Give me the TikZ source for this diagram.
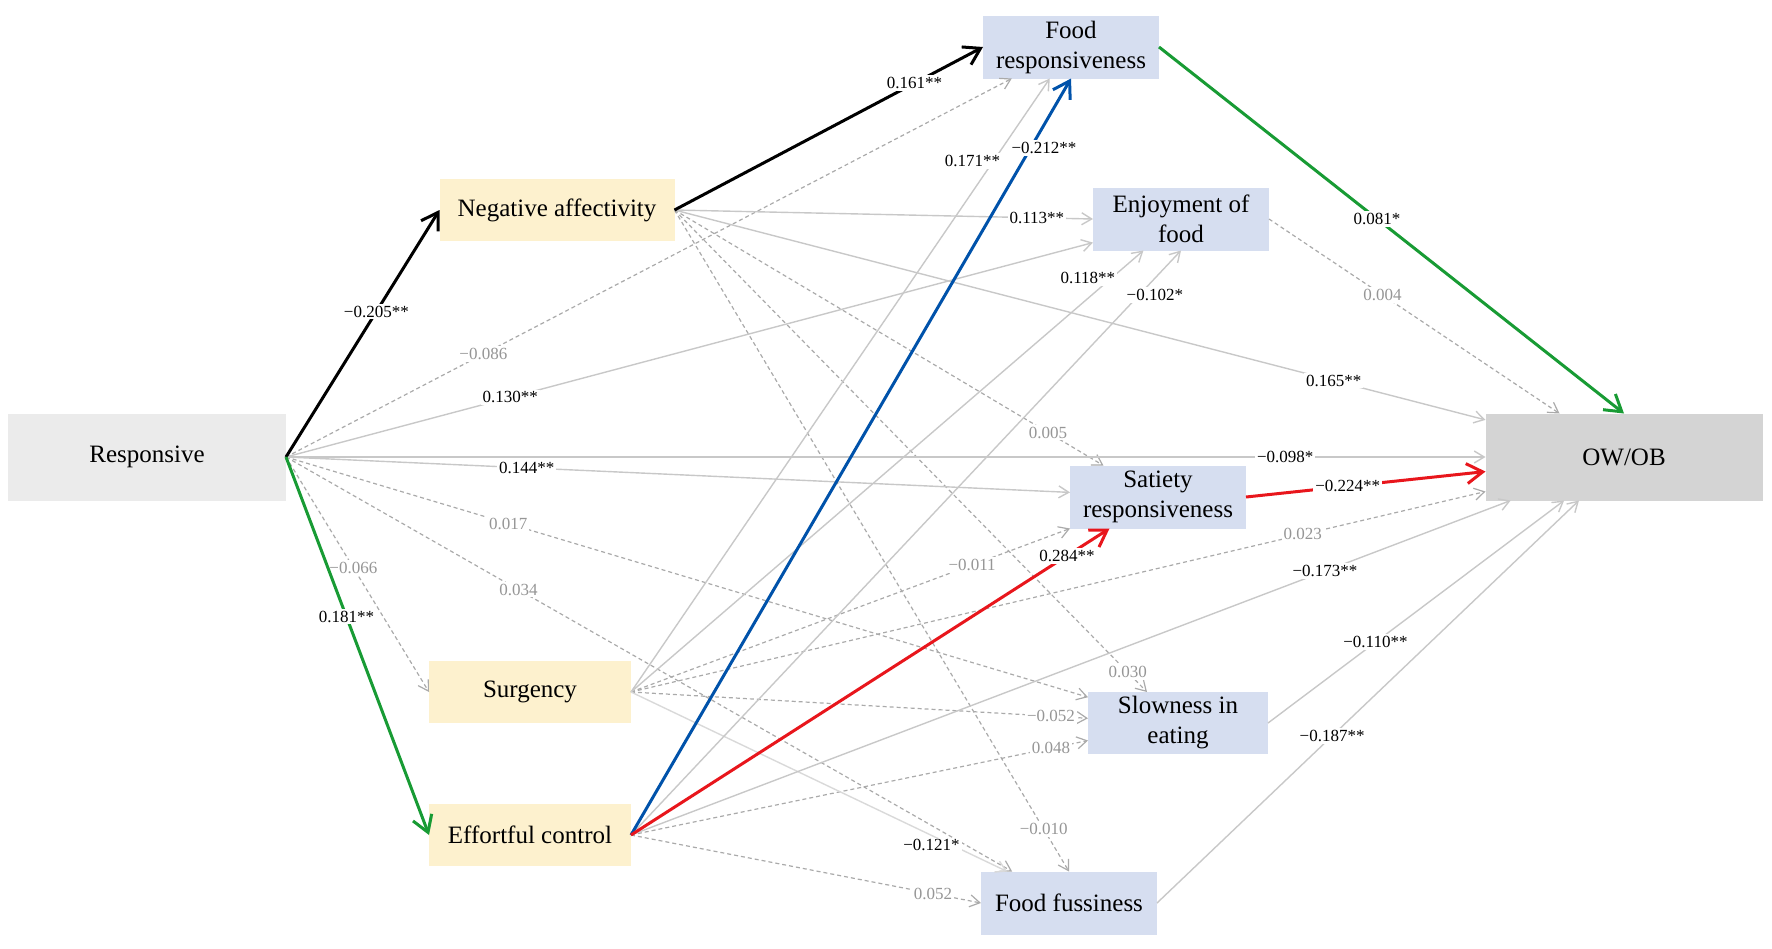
\documentclass[tikz,border=0pt]{standalone}
\usepackage{fontspec}
\setmainfont{Liberation Serif}
\usetikzlibrary{arrows.meta}
\definecolor{resgray}{RGB}{235,235,235}
\definecolor{obgray}{RGB}{212,212,212}
\definecolor{tempcol}{RGB}{253,241,206}
\definecolor{medcol}{RGB}{214,222,240}
\definecolor{linegray}{RGB}{200,200,200}
\definecolor{dashgray}{RGB}{170,170,170}
\definecolor{labgray}{RGB}{150,150,150}
\definecolor{pathgreen}{RGB}{24,155,52}
\definecolor{pathblue}{RGB}{0,82,170}
\definecolor{pathred}{RGB}{232,22,28}
\tikzset{
    box/.style={inner sep=0pt, outer sep=0pt, align=center, font=\fontsize{12.5}{15}\selectfont},
    outbox/.style={box, fill=resgray, minimum width=139pt, minimum height=43.5pt},
    tempbox/.style={box, fill=tempcol, minimum width=101pt, minimum height=31pt},
    medbox/.style={box, fill=medcol, minimum width=88pt, minimum height=31.5pt},
    sigline/.style={draw=linegray, line width=0.7pt, -{Straight Barb[length=5pt,width=6pt]}},
    nsline/.style={draw=dashgray, line width=0.6pt, dash pattern=on 2pt off 1.5pt, -{Straight Barb[length=5pt,width=6pt]}},
    mainline/.style={line width=1.5pt, -{Straight Barb[length=8pt,width=10pt]}},
    lab/.style={fill=white, text=black, inner sep=1pt, font=\fontsize{8.5}{10}\selectfont},
    nslab/.style={lab, text=labgray}
}
\begin{document}
\begin{tikzpicture}[x=0.5pt,y=-0.5pt]
    \useasboundingbox (0,0) rectangle (1772,948);
    \node [outbox] (res) at (147,457) {Responsive};
    \node [outbox, fill=obgray, minimum width=138.5pt] (ob) at (1624,457) {OW/OB};
    \node [tempbox, minimum width=117.5pt] (na) at (557,210) {Negative affectivity};
    \node [tempbox] (su) at (530,692) {Surgency};
    \node [tempbox] (ec) at (530,835) {Effortful control};
    \node [medbox] (fr) at (1071,47) {Food\\responsiveness};
    \node [medbox] (ef) at (1181,219) {Enjoyment of\\food};
    \node [medbox] (sr) at (1158,497) {Satiety\\responsiveness};
    \node [medbox, minimum width=90pt, minimum height=31pt] (se) at (1178,723) {Slowness in\\eating};
    \node [medbox] (ff) at (1069,903) {Food fussiness};

    \draw [nsline] (res.east) -- node[nslab,pos=.272] {−0.086} (fr.-152);
    \draw [nsline] (res.east) -- node[nslab,pos=.277] {0.017} (se.164);
    \draw [nsline] (res.east) -- node[nslab,pos=.32] {0.034} (ff.151);
    \draw [nsline] (res.east) -- node[nslab,pos=.471] {−0.066} (su.west);
    \draw [nsline] (na.east) -- node[nslab,pos=.871] {0.005} (sr.150);
    \draw [nsline] (na.east) -- node[nslab,pos=.959] {0.030} (se.135);
    \draw [nsline] (na.east) -- node[nslab,pos=.936] {−0.010} (ff.north);
    \draw [nsline] (su.east) -- node[nslab,pos=.777] {−0.011} (sr.south west);
    \draw [nsline] (su.east) -- node[nslab,pos=.919] {−0.052} (se.177);
    \draw [nsline] (su.east) -- node[nslab,pos=.786] {0.023} (ob.-166);
    \draw [nsline] (ec.east) -- node[nslab,pos=.919] {0.048} (se.-169);
    \draw [nsline] (ec.east) -- node[nslab,pos=.863] {0.052} (ff.west);
    \draw [nsline] (ef.east) -- node[nslab,pos=.391] {0.004} (ob.146);

    \draw [sigline] (res.east) -- node[lab,pos=.278] {0.130**} (ef.-165);
    \draw [sigline] (res.east) -- node[lab,pos=.833] {−0.098*} (ob.west);
    \draw [sigline] (res.east) -- node[lab,pos=.307] {0.144**} (sr.177);
    \draw [sigline] (na.east) -- node[lab,pos=.866] {0.113**} (ef.west);
    \draw [sigline] (na.east) -- node[lab,pos=.813] {0.165**} (ob.165);
    \draw [sigline] (su.east) -- node[lab,pos=.849,xshift=-7pt,yshift=5pt] {0.171**} (fr.-124);
    \draw [sigline] (su.east) -- node[lab,pos=.911,xshift=-5pt,yshift=6pt] {0.118**} (ef.-140);
    \draw [sigline, draw=linegray!70] (su.east) -- node[lab,pos=.799,yshift=-5pt] {−0.121*} (ff.153);
    \draw [sigline] (ec.east) -- node[lab,pos=.938,xshift=4pt,yshift=-4pt] {−0.102*} (ef.south);
    \draw [sigline] (ec.east) -- node[lab,pos=.789] {−0.173**} (ob.-159);
    \draw [sigline] (se.east) -- node[lab,pos=.363] {−0.110**} (ob.-144);
    \draw [sigline] (ff.east) -- node[lab,pos=.415] {−0.187**} (ob.-136);

    \draw [mainline, black] (res.east) -- node[lab,pos=.589] {−0.205**} (na.west);
    \draw [mainline, pathgreen] (res.east) -- node[lab,pos=.4225] {0.181**} (ec.west);
    \draw [mainline, black] (na.east) -- node[lab,pos=.778] {0.161**} (fr.west);
    \draw [mainline, pathblue] (ec.east) -- node[lab,pos=.916,xshift=5pt,yshift=-3pt] {−0.212**} (fr.south);
    \draw [mainline, pathred] (ec.east) -- node[lab,pos=.911] {0.284**} (sr.-147);
    \draw [mainline, pathgreen] (fr.east) -- node[lab,pos=.469] {0.081*} (ob.north);
    \draw [mainline, pathred] (sr.east) -- node[lab,pos=.425] {−0.224**} (ob.-174);
\end{tikzpicture}
\end{document}
